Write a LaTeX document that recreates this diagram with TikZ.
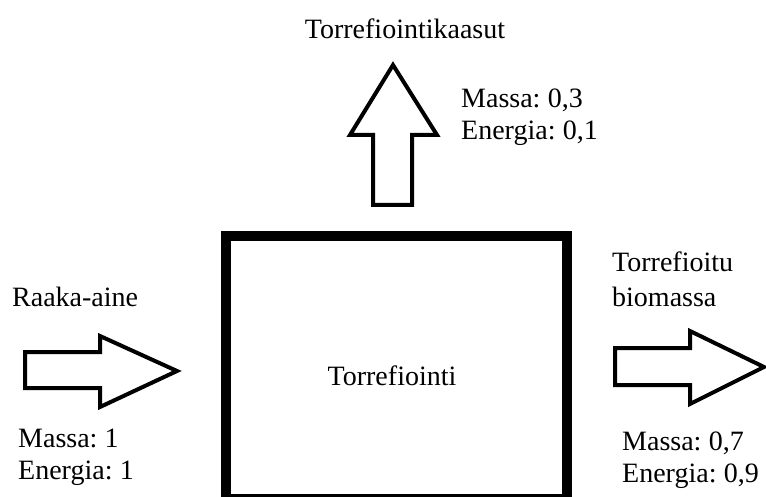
\documentclass[tikz,border=0pt]{standalone}
\usepackage{fontspec}
\setmainfont{Liberation Serif}[WordSpace=0.7]
\begin{document}
\begin{tikzpicture}[x=1pt,y=-1pt,
  txt/.style={inner sep=0pt,font=\fontsize{28}{32}\selectfont},
  lbl/.style={txt,anchor=base west},
  fat/.style={draw=black,line width=4pt,line join=miter,fill=white}]
\useasboundingbox (0,0) rectangle (766,497);
\begin{scope}
\clip (0,0) rectangle (766,497);
\draw[line width=10pt] (226,236.5) rectangle (566.5,498.5);
\end{scope}
\node[txt,anchor=base] (proc) at (392,385) {Torrefiointi};
% up arrow
\draw[fat] (373,205) -- (373,135) -- (350,135) -- (393,65) -- (437,135) -- (412,135) -- (412,205) -- cycle;
% left arrow
\draw[fat] (25,352) -- (100,352) -- (100,336) -- (177,371) -- (100,407) -- (100,388) -- (25,388) -- cycle;
% right arrow
\draw[fat] (615,348) -- (690,348) -- (690,331) -- (764,367) -- (690,404) -- (690,385) -- (615,385) -- cycle;
\node[txt,anchor=base] (gas) at (405,39) {Torrefiointikaasut};
\node[lbl] (gm) at (461,108) {Massa: 0,3};
\node[lbl] (ge) at (461,140) {Energia: 0,1};
\node[lbl] (raw) at (12,306) {Raaka-aine};
\node[lbl] (rm) at (18,447) {Massa: 1};
\node[lbl] (re) at (18,479) {Energia: 1};
\node[lbl] (out1) at (612,272) {Torrefioitu};
\node[lbl] (out2) at (612,306) {biomassa};
\node[lbl] (om) at (622,450) {Massa: 0,7};
\node[lbl] (oe) at (622,482) {Energia: 0,9};
\end{tikzpicture}
\end{document}
